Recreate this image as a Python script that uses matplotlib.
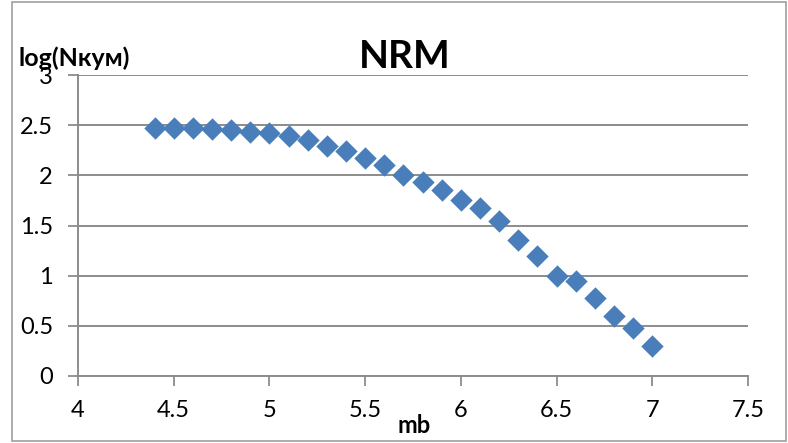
import matplotlib
matplotlib.use("Agg")
import matplotlib.pyplot as plt
from matplotlib.patches import Rectangle

mb = [4.4, 4.5, 4.6, 4.7, 4.8, 4.9, 5.0, 5.1, 5.2, 5.3, 5.4, 5.5, 5.6, 5.7,
      5.8, 5.9, 6.0, 6.1, 6.2, 6.3, 6.4, 6.5, 6.6, 6.7, 6.8, 6.9, 7.0]
log_n = [2.47, 2.47, 2.47, 2.46, 2.45, 2.43, 2.42, 2.39, 2.35, 2.29, 2.24,
         2.17, 2.10, 2.00, 1.93, 1.85, 1.75, 1.67, 1.54, 1.36, 1.20, 1.00,
         0.95, 0.78, 0.60, 0.48, 0.30]
x_ticks = [4, 4.5, 5, 5.5, 6, 6.5, 7, 7.5]
y_ticks = [0, 0.5, 1, 1.5, 2, 2.5, 3]
x_tick_labels = ["4", "4.5", "5", "5.5", "6", "6.5", "7", "7.5"]
y_tick_labels = ["0", "0.5", "1", "1.5", "2", "2.5", "3"]

plt.rcParams["font.family"] = ["Lato", "DejaVu Sans"]

W, H = 788, 443
fig = plt.figure(figsize=(W / 100, H / 100), dpi=100)
ax = fig.add_axes([78 / W, 1 - 376 / H, (748 - 78) / W, (376 - 75) / H])

grid_c = "#8c8c8c"
ax.scatter(mb, log_n, marker="D", s=130, color="#4a7ebb", zorder=3,
           linewidths=0)

ax.set_xlim(4, 7.5)
ax.set_ylim(0, 3)
ax.set_xticks(x_ticks)
ax.set_xticklabels(x_tick_labels)
ax.set_yticks(y_ticks)
ax.set_yticklabels(y_tick_labels)
ax.yaxis.grid(True, color=grid_c, linewidth=1.4)
ax.set_axisbelow(True)
for side in ("top", "right"):
    ax.spines[side].set_visible(False)
for side in ("left", "bottom"):
    ax.spines[side].set_color(grid_c)
    ax.spines[side].set_linewidth(1.4)
ax.tick_params(axis="both", colors=grid_c, labelcolor="black",
               labelsize=17, length=7, width=1.3)
ax.tick_params(axis="x", pad=10)
ax.tick_params(axis="y", pad=11)

fig.text(405 / W, 1 - 57 / H, "NRM", ha="center", va="center",
         fontsize=28, fontweight="bold")
fig.text(18 / W, 1 - 66 / H, "log(Nкум)", ha="left", va="baseline",
         fontsize=18, fontweight="bold")
fig.text(414 / W, 1 - 433 / H, "mb", ha="center", va="baseline",
         fontsize=17, fontweight="bold")

fig.patches.append(Rectangle((12 / W, 2 / H), (786 - 12) / W, (H - 4) / H,
                             transform=fig.transFigure, fill=False,
                             edgecolor="#a0a0a0", linewidth=1.2))

fig.savefig("out.png", dpi=100)
